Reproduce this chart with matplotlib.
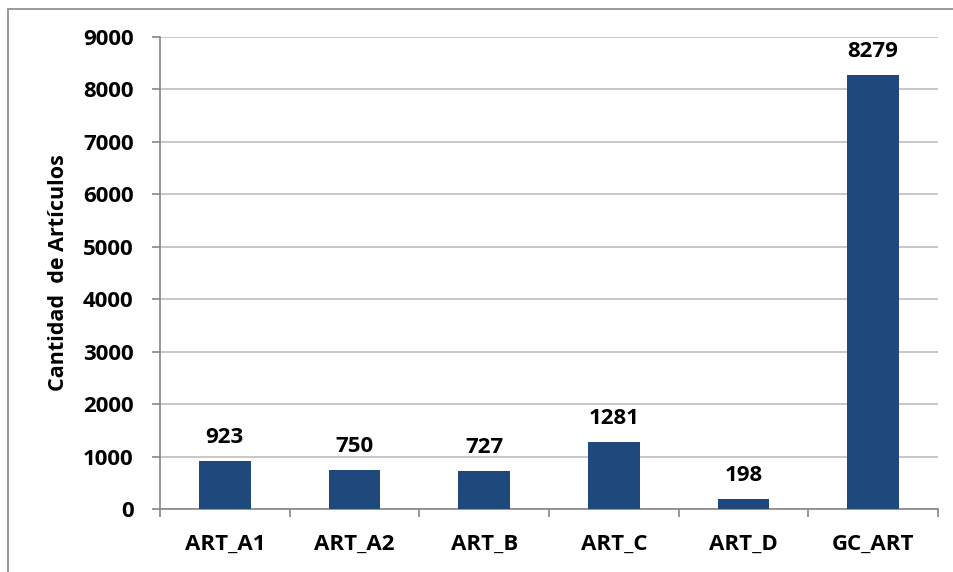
import matplotlib

matplotlib.use("Agg")

import matplotlib.pyplot as plt
import numpy as np
from matplotlib.patches import Rectangle

categories = ["ART_A1", "ART_A2", "ART_B", "ART_C", "ART_D", "GC_ART"]
counts = [923, 750, 727, 1281, 198, 8279]
y_ticks = [0, 1000, 2000, 3000, 4000, 5000, 6000, 7000, 8000, 9000]

plt.rcParams["font.family"] = ["Open Sans", "DejaVu Sans"]

BAR_COLOR = "#1F497D"
GRID_COLOR = "#BEBEBE"
AXIS_COLOR = "#868686"

fig = plt.figure(figsize=(9.54, 5.72), dpi=100)
ax = fig.add_axes([160 / 954, 1 - 509 / 572, 778 / 954, 472 / 572])

x = np.arange(len(categories))
bars = ax.bar(x, counts, width=0.4, color=BAR_COLOR, zorder=3)

for bar, value in zip(bars, counts):
    ax.annotate(
        f"{value}",
        (bar.get_x() + bar.get_width() / 2, bar.get_height()),
        xytext=(0, 9),
        textcoords="offset points",
        ha="center",
        va="bottom",
        fontsize=16,
        fontweight="bold",
    )

ax.set_xlim(-0.5, len(categories) - 0.5)
ax.set_ylim(0, 9000)
ax.set_yticks(y_ticks)
ax.set_yticklabels([str(v) for v in y_ticks], fontsize=16, fontweight="bold")
ax.yaxis.grid(True, color=GRID_COLOR, linewidth=1.2, zorder=0)

ax.set_xticks(x)
ax.set_xticklabels(categories, fontsize=16, fontweight="bold")
ax.tick_params(axis="x", which="major", length=0, pad=18)
ax.set_xticks(np.arange(-0.5, len(categories)), minor=True)
ax.tick_params(axis="x", which="minor", length=6, color=AXIS_COLOR, width=1.2)
ax.tick_params(axis="y", length=6, color=AXIS_COLOR, width=1.2, pad=13)

for side in ["top", "right"]:
    ax.spines[side].set_visible(False)
for side in ["left", "bottom"]:
    ax.spines[side].set_color(AXIS_COLOR)
    ax.spines[side].set_linewidth(1.2)

ax.set_ylabel("Cantidad  de Artículos", fontsize=15.5, fontweight="bold", labelpad=10)

fig.patches.append(
    Rectangle(
        (8 / 954, -0.1),
        1.2,
        1.1 - 9 / 572,
        transform=fig.transFigure,
        fill=False,
        edgecolor="#888888",
        linewidth=1.2,
    )
)

fig.savefig("out.png", dpi=100)
